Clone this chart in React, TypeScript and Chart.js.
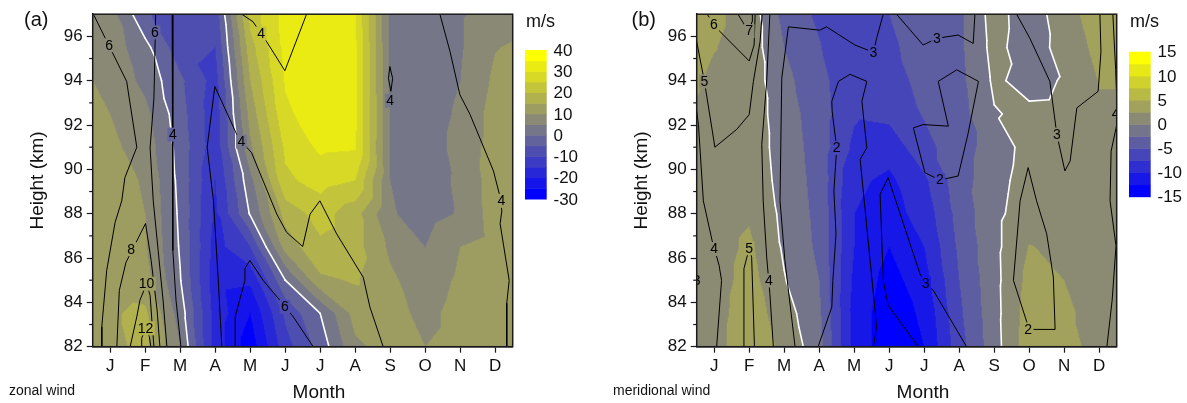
import { useEffect, useRef } from "react";
import { Chart, registerables } from "chart.js";

Chart.register(...registerables);

const FONT = "'Liberation Sans', Arial, Helvetica, sans-serif";

type Pt = [number, number];
type Label = [number, number, string];

// ---------- axes ----------
const MONTH_TICKS = [1, 2, 3, 4, 5, 6, 7, 8, 9, 10, 11, 12];
const MONTH_LABELS = ["J", "F", "M", "A", "M", "J", "J", "A", "S", "O", "N", "D"];
const HEIGHT_TICKS = [82, 84, 86, 88, 90, 92, 94, 96];
const HEIGHT_MINOR = [83, 85, 87, 89, 91, 93, 95];

// ---------- grid of the filled field ----------
const GRID_MONTHS = [0.5, 1, 2, 3, 4, 5, 6, 7, 8, 9, 10, 11, 12, 12.5];
const GRID_HEIGHTS = [82, 83.5, 85, 86.5, 88, 89.5, 91, 92.5, 94, 95.5, 97];

// zonal wind (m/s), one row per grid month, heights 82 -> 97 km
const ZONAL_WIND: number[][] = [
  [13, 13, 12, 12, 12, 12, 12, 11, 10, 9, 8],
  [14, 14.5, 13, 12.5, 12, 12, 11, 10, 9, 8, 7],
  [16, 16, 12, 10.5, 10, 9.5, 8, 6.5, 3.5, 1.5, -4],
  [5, 2.8, 0.3, -0.5, -1, -1.5, -2, -3, -4, -8, -10],
  [-17, -17, -18, -17, -16, -15, -13, -13, -12, -10, -8],
  [-28, -25, -19, -10, 0.5, 3.5, 9, 12, 15, 18, 22],
  [-12, -9, 0, 12, 17, 24, 26, 29, 30.5, 31.5, 32],
  [-3, 0, 14, 19, 22, 27, 31, 33, 34, 34, 33],
  [9, 12, 15.5, 17, 17, 25, 30.5, 31, 31, 31, 30],
  [12, 12, 11, 9, 5.5, 5, 4.5, 4.5, 4, 4, 4],
  [10, 8.5, 7, 5, 3, 2.5, 2, 2, 1.5, 1, 1],
  [12, 12, 11, 10, 5.5, 6, 7, 6, 5, 4.5, 4.5],
  [12, 12, 12, 12, 12.5, 12.5, 12, 12, 11, 9.8, 7],
  [12, 12, 12, 12, 12.5, 12.5, 12, 12, 11.5, 10.5, 8.5],
];

// meridional wind (m/s), one row per grid month, heights 82 -> 97 km
const MERIDIONAL_WIND: number[][] = [
  [1.2, 1.2, 1.2, 1.2, 1.2, 1.2, 1.3, 2.2, 2.8, 3.3, 4],
  [1.4, 1.4, 1.3, 1.3, 1.3, 1.3, 1.3, 1.5, 2.0, 2.6, 3],
  [4.5, 4, 3.5, 3, 2.2, 1.7, 1.5, 1.5, 1.5, 1.5, 1.5],
  [1.8, 1.1, 0.15, -0.35, -0.6, -0.9, -1.1, -1.35, -1.85, -2.5, -3.3],
  [-1.5, -2, -2.5, -3, -3.2, -3.4, -3.6, -3.8, -4, -4.8, -5.5],
  [-11, -11, -10.5, -10, -10, -9.5, -8, -7.2, -7.5, -7.5, -7.5],
  [-14, -14, -13.5, -12.5, -11, -10.5, -9, -6.8, -5.8, -5.3, -5],
  [-12.5, -12, -11, -10, -9, -8, -5.8, -4.8, -4.4, -4.3, -4.2],
  [-6, -5.5, -5, -4.5, -4, -3.5, -3.5, -3.5, -3.2, -3, -3],
  [-1.05, -0.9, -0.8, -0.7, -0.7, -1.0, -1.45, -0.15, 0.4, 0.8, 1.05],
  [4, 3.7, 3.3, 2.6, 1.5, 1.2, 1, 0.5, -0.8, -1.4, -1.5],
  [3.5, 3, 2.5, 2, 1.5, 1.2, 1, 0.6, 0.2, 1, 1.5],
  [1.5, 1.5, 1.5, 1.5, 1.5, 1.5, 1.8, 2.2, 2.6, 3.2, 3.8],
  [1.2, 1.2, 1.3, 1.4, 1.5, 1.6, 1.8, 2.2, 2.6, 3.5, 4.3],
];

// ---------- black contour lines (month, height) ----------
const ZONAL_CONTOURS: Pt[][] = [
  [[0.52, 97], [1.47, 93.97], [1.76, 91.0], [1.42, 89.63], [1.33, 88.58], [1.14, 87.61], [0.9, 85.44], [0.76, 82.9], [0.76, 82]],
  [[2.3, 97], [2.25, 93.22], [2.14, 90.97], [2.23, 88.58], [2.37, 86.34], [2.51, 84.1], [2.62, 82]],
  [[2.77, 97], [2.79, 91.59], [2.79, 86.34], [2.88, 84.1], [3.02, 82]],
  [[4.19, 82], [4.09, 84.92], [3.95, 88.58], [3.77, 91.0], [3.99, 93.74], [4.66, 91.42], [5.04, 90.75], [5.76, 87.98], [6.04, 87.16], [6.5, 86.52], [6.71, 87.98], [6.99, 88.58], [7.47, 87.09], [8.23, 85.13], [8.42, 83.79], [8.8, 82]],
  [[4.76, 97], [5.08, 96.66], [5.47, 95.76], [5.99, 94.45], [6.61, 97]],
  [[4.57, 82], [4.57, 83.35], [4.85, 84.99], [4.85, 85.53], [4.99, 85.89], [5.37, 84.99], [5.85, 84.09], [6.23, 83.35], [6.8, 82]],
  [[10.42, 97], [10.71, 95.31], [10.99, 93.37], [11.28, 92.48], [11.95, 89.93], [12.12, 88.88], [12.19, 88.13], [12.14, 87.55], [12.4, 84.99], [12.33, 83.96], [12.33, 82]],
  [[8.99, 94.64], [9.07, 94.1], [9.02, 93.52], [8.95, 94.1], [8.99, 94.64]],
  [[1.19, 82], [1.26, 84.54], [1.45, 85.8], [2.01, 87.56], [2.17, 85.89], [2.34, 83.65], [2.42, 82]],
  [[1.57, 82], [1.76, 83.35], [1.85, 84.1], [2.04, 84.84], [2.14, 84.32], [2.19, 83.2], [2.25, 82]],
  [[1.9, 82], [1.9, 82.38], [2.01, 82.83], [2.12, 82.45], [2.16, 82]],
];
const ZONAL_LABELS: Label[] = [
  [0.97, 95.6, "6"], [2.28, 96.18, "6"], [2.79, 91.57, "4"], [5.31, 96.13, "4"],
  [4.75, 91.25, "4"], [9.0, 93.1, "4"], [12.18, 88.58, "4"], [1.6, 86.4, "8"],
  [2.04, 84.84, "10"], [2.01, 82.83, "12"], [5.99, 83.8, "6"],
];

const MERIDIONAL_CONTOURS: Pt[][] = [
  [[0.8, 97], [0.99, 96.54], [1.17, 96.21], [2.0, 94.89], [2.14, 95.61], [2.17, 97]],
  [[1.68, 97], [1.88, 96.48], [2.0, 96.24], [2.08, 96.66], [2.09, 97]],
  [[0.5, 95.76], [0.72, 93.97], [1.02, 91.0], [1.64, 91.8], [2.0, 92.47], [2.12, 93.97], [2.31, 95.76], [2.37, 97]],
  [[2.59, 97], [2.5, 93.97], [2.36, 91.13], [2.4, 88.58], [2.5, 86.04], [2.59, 84.4], [2.69, 82]],
  [[3.31, 82], [3.02, 85.89], [2.88, 88.58], [2.93, 94.11], [3.12, 96.43], [4.02, 96.28], [4.21, 96.43], [5.02, 95.61], [5.55, 95.28], [5.64, 95.91], [5.83, 97]],
  [[0.5, 92.62], [0.55, 92.02], [0.69, 88.58], [0.94, 86.79], [1.14, 85.67], [1.21, 84.99], [1.07, 82]],
  [[1.83, 82], [1.85, 85.52], [2.0, 86.44], [2.07, 86.04], [2.15, 82]],
  [[3.97, 82], [4.36, 83.79], [4.39, 84.99], [4.48, 87.09], [4.42, 89.03], [4.5, 90.97], [4.37, 92.62], [4.36, 93.07], [4.55, 93.97], [4.88, 94.29], [5.36, 93.97], [5.22, 93.07], [5.36, 90.97], [5.17, 90.45], [5.64, 82.9], [5.55, 82]],
  [[6.83, 82], [5.97, 83.87], [5.83, 84.99], [5.74, 88.88], [5.97, 89.63], [6.88, 85.29], [7.04, 84.84], [7.26, 84.54], [8.21, 82]],
  [[6.21, 97], [6.97, 95.61], [7.36, 95.91], [7.97, 96.06], [8.4, 95.68], [8.45, 97]],
  [[7.93, 94.49], [7.4, 93.97], [7.69, 91.95], [6.97, 92.02], [6.69, 91.87], [7.02, 89.85], [7.45, 89.52], [7.97, 89.7], [8.25, 91.59], [8.55, 93.97], [7.93, 94.49]],
  [[9.64, 97], [10.02, 95.91], [10.59, 93.97], [10.79, 91.57], [11.02, 89.93], [11.17, 90.38], [11.36, 92.77], [11.97, 93.52], [12.05, 95.31], [12.02, 97]],
  [[9.97, 90.08], [9.74, 88.58], [9.55, 84.99], [9.93, 83.12], [9.97, 82.78], [10.74, 82.78], [10.69, 85.14], [10.5, 87.09], [10.21, 88.58], [9.97, 90.08]],
  [[12.39, 97], [12.47, 94.5], [12.5, 93.2], [12.5, 92.0], [12.34, 90.82], [12.31, 88.58], [12.48, 86.55], [12.37, 84.1], [12.22, 82]],
];
const MERIDIONAL_LABELS: Label[] = [
  [0.99, 96.54, "6"], [2.0, 96.24, "7"], [0.72, 93.97, "5"], [1.0, 86.41, "4"],
  [2.0, 86.44, "5"], [2.56, 84.99, "4"], [5.55, 95.28, "3"], [4.5, 90.97, "2"],
  [7.04, 84.84, "3"], [7.36, 95.91, "3"], [7.45, 89.52, "2"], [10.79, 91.57, "3"],
  [9.97, 82.78, "2"], [12.47, 92.5, "4"], [0.5, 84.99, "3"],
];

// ---------- colour levels ----------
const ZONAL_LEVELS = { min: -30, max: 40, step: 5 };
const ZONAL_BAR_TICKS = [40, 30, 20, 10, 0, -10, -20, -30];
const MERIDIONAL_LEVELS = { min: -15, max: 15, step: 2.5 };
const MERIDIONAL_BAR_TICKS = [15, 10, 5, 0, -5, -10, -15];

type Levels = { min: number; max: number; step: number };
type Spec = {
  grid: number[][];
  levels: Levels;
  barTicks: number[];
  contours: Pt[][];
  labels: Label[];
  letter: string;
  letterX: number;
  note: string;
  barTop: number;
  barBottom: number;
};

const ZONAL_SPEC: Spec = {
  grid: ZONAL_WIND, levels: ZONAL_LEVELS, barTicks: ZONAL_BAR_TICKS,
  contours: ZONAL_CONTOURS, labels: ZONAL_LABELS, letter: "(a)", letterX: 24,
  note: "zonal wind", barTop: 50, barBottom: 199,
};
const MERIDIONAL_SPEC: Spec = {
  grid: MERIDIONAL_WIND, levels: MERIDIONAL_LEVELS, barTicks: MERIDIONAL_BAR_TICKS,
  contours: MERIDIONAL_CONTOURS, labels: MERIDIONAL_LABELS, letter: "(b)", letterX: 27.5,
  note: "meridional wind", barTop: 51.7, barBottom: 196.7,
};

// ---------- helpers ----------
function locate(arr: number[], v: number) {
  let i = 0;
  while (i < arr.length - 2 && v > arr[i + 1]) i++;
  return i;
}
function sample(grid: number[][], xm: number, yh: number) {
  const gx = GRID_MONTHS, gy = GRID_HEIGHTS;
  const x = Math.min(Math.max(xm, gx[0]), gx[gx.length - 1]);
  const y = Math.min(Math.max(yh, gy[0]), gy[gy.length - 1]);
  const i = locate(gx, x), j = locate(gy, y);
  const u = (x - gx[i]) / (gx[i + 1] - gx[i]);
  const v = (y - gy[j]) / (gy[j + 1] - gy[j]);
  const f00 = grid[i][j], f10 = grid[i + 1][j], f01 = grid[i][j + 1], f11 = grid[i + 1][j + 1];
  if (u + v <= 1) return f00 + u * (f10 - f00) + v * (f01 - f00);
  return f11 + (1 - u) * (f01 - f11) + (1 - v) * (f10 - f11);
}
function binColor(v: number, lv: Levels): [number, number, number] {
  const n = Math.round((lv.max - lv.min) / lv.step);
  let idx = Math.floor((v - lv.min) / lv.step);
  idx = Math.max(0, Math.min(n - 1, idx));
  const t = idx / (n - 1);
  return [Math.round(255 * t), Math.round(255 * t), Math.round(255 * (1 - t))];
}
function contourSegments(grid: number[][], level: number) {
  const segs: [Pt, Pt][] = [];
  const gx = GRID_MONTHS, gy = GRID_HEIGHTS;
  const tri = (pts: Pt[], vals: number[]) => {
    const above = vals.map((v) => v >= level);
    if (above[0] === above[1] && above[1] === above[2]) return;
    const out: Pt[] = [];
    for (let k = 0; k < 3; k++) {
      const a = k, b = (k + 1) % 3;
      if (above[a] !== above[b]) {
        const t = (level - vals[a]) / (vals[b] - vals[a]);
        out.push([pts[a][0] + t * (pts[b][0] - pts[a][0]), pts[a][1] + t * (pts[b][1] - pts[a][1])]);
      }
    }
    if (out.length === 2) segs.push([out[0], out[1]]);
  };
  for (let i = 0; i < gx.length - 1; i++) {
    for (let j = 0; j < gy.length - 1; j++) {
      const p00: Pt = [gx[i], gy[j]], p10: Pt = [gx[i + 1], gy[j]];
      const p01: Pt = [gx[i], gy[j + 1]], p11: Pt = [gx[i + 1], gy[j + 1]];
      tri([p00, p10, p01], [grid[i][j], grid[i + 1][j], grid[i][j + 1]]);
      tri([p11, p01, p10], [grid[i + 1][j + 1], grid[i][j + 1], grid[i + 1][j]]);
    }
  }
  return segs;
}

function makePlugins(spec: Spec) {
  const fill = {
    id: "contourFill",
    beforeDatasetsDraw(chart: any) {
      const { ctx, chartArea: ca, scales } = chart;
      const xs = scales.x, ys = scales.y;
      const w = Math.ceil(ca.right - ca.left), h = Math.ceil(ca.bottom - ca.top);
      const off = document.createElement("canvas");
      off.width = w; off.height = h;
      const octx = off.getContext("2d")!;
      const img = octx.createImageData(w, h);
      for (let py = 0; py < h; py++) {
        const yv = ys.getValueForPixel(ca.top + py + 0.5);
        for (let px = 0; px < w; px++) {
          const xv = xs.getValueForPixel(ca.left + px + 0.5);
          const c = binColor(sample(spec.grid, xv, yv), spec.levels);
          const o = (py * w + px) * 4;
          img.data[o] = c[0]; img.data[o + 1] = c[1]; img.data[o + 2] = c[2]; img.data[o + 3] = 255;
        }
      }
      octx.putImageData(img, 0, 0);
      ctx.save();
      ctx.beginPath();
      ctx.rect(ca.left, ca.top, ca.right - ca.left, ca.bottom - ca.top);
      ctx.clip();
      ctx.drawImage(off, ca.left, ca.top);
      // white zero contour
      ctx.strokeStyle = "#ffffff";
      ctx.lineWidth = 1.6;
      ctx.lineCap = "round";
      for (const [a, b] of contourSegments(spec.grid, 0)) {
        ctx.beginPath();
        ctx.moveTo(xs.getPixelForValue(a[0]), ys.getPixelForValue(a[1]));
        ctx.lineTo(xs.getPixelForValue(b[0]), ys.getPixelForValue(b[1]));
        ctx.stroke();
      }
      ctx.restore();
    },
  };
  const labels = {
    id: "contourLabels",
    afterDatasetsDraw(chart: any) {
      const { ctx, chartArea: ca, scales } = chart;
      ctx.save();
      ctx.beginPath();
      ctx.rect(ca.left, ca.top, ca.right - ca.left, ca.bottom - ca.top);
      ctx.clip();
      ctx.font = `14px ${FONT}`;
      ctx.textAlign = "center";
      ctx.textBaseline = "middle";
      for (const [m, hgt, txt] of spec.labels) {
        const px = scales.x.getPixelForValue(m), py = scales.y.getPixelForValue(hgt);
        const c = binColor(sample(spec.grid, m, hgt), spec.levels);
        const tw = ctx.measureText(txt).width;
        ctx.fillStyle = `rgb(${c[0]},${c[1]},${c[2]})`;
        ctx.fillRect(px - tw / 2 - 1.5, py - 7, tw + 3, 14);
        ctx.fillStyle = "#000";
        ctx.fillText(txt, px, py + 0.5);
      }
      ctx.restore();
    },
  };
  const deco = {
    id: "decorations",
    afterDraw(chart: any) {
      const { ctx, chartArea: ca, scales } = chart;
      ctx.save();
      // frame
      ctx.strokeStyle = "#1a1a1a";
      ctx.lineWidth = 1.5;
      ctx.strokeRect(ca.left, ca.top, ca.right - ca.left, ca.bottom - ca.top);
      // minor y ticks
      ctx.lineWidth = 1.2;
      for (const v of HEIGHT_MINOR) {
        const py = scales.y.getPixelForValue(v);
        ctx.beginPath();
        ctx.moveTo(ca.left - 3.5, py);
        ctx.lineTo(ca.left, py);
        ctx.stroke();
      }
      // colorbar
      const lv = spec.levels;
      const n = Math.round((lv.max - lv.min) / lv.step);
      const bx = 525, bw = 21.7;
      const bh = (spec.barBottom - spec.barTop) / n;
      for (let k = 0; k < n; k++) {
        const c = binColor(lv.min + (k + 0.5) * lv.step, lv);
        ctx.fillStyle = `rgb(${c[0]},${c[1]},${c[2]})`;
        ctx.fillRect(bx, spec.barBottom - (k + 1) * bh, bw, bh + 0.5);
      }
      ctx.fillStyle = "#111";
      ctx.font = `17px ${FONT}`;
      ctx.textAlign = "left";
      ctx.textBaseline = "middle";
      for (const t of spec.barTicks) {
        const yy = spec.barBottom - ((t - lv.min) / (lv.max - lv.min)) * (spec.barBottom - spec.barTop);
        ctx.fillText(String(t), 553.5, yy + 1);
      }
      ctx.font = `18px ${FONT}`;
      ctx.fillText("m/s", 526, 22);
      // panel letter
      ctx.font = `20px ${FONT}`;
      ctx.fillText(spec.letter, spec.letterX, 20);
      // footnote
      ctx.font = `14px ${FONT}`;
      ctx.fillText(spec.note, 9, 391);
      // axis titles
      ctx.font = `19px ${FONT}`;
      ctx.textAlign = "center";
      ctx.fillText("Month", 319, 393);
      ctx.translate(38, (ca.top + ca.bottom) / 2);
      ctx.rotate(-Math.PI / 2);
      ctx.fillText("Height (km)", 0, 0);
      ctx.restore();
    },
  };
  return [fill, labels, deco];
}

function buildConfig(spec: Spec, width: number): any {
  const tickFont = { family: FONT, size: 17 };
  return {
    type: "scatter",
    data: {
      datasets: spec.contours.map((pts) => ({
        data: pts.map(([x, y]) => ({ x, y })),
        showLine: true,
        borderColor: "#000",
        borderWidth: 1,
        pointRadius: 0,
        pointHoverRadius: 0,
        fill: false,
        tension: 0,
      })),
    },
    options: {
      animation: false,
      responsive: false,
      maintainAspectRatio: false,
      events: [],
      layout: { padding: { left: 0, right: width - 512.7, top: 12.4, bottom: 0 } },
      plugins: { legend: { display: false }, tooltip: { enabled: false }, title: { display: false } },
      scales: {
        x: {
          type: "linear",
          min: 0.5,
          max: 12.5,
          afterBuildTicks: (axis: any) => {
            axis.ticks = MONTH_TICKS.map((v) => ({ value: v }));
          },
          afterFit: (axis: any) => {
            axis.height = 56.3;
          },
          ticks: {
            callback: (v: number) => MONTH_LABELS[Math.round(v) - 1] ?? "",
            font: tickFont,
            color: "#111",
            padding: 3,
            maxRotation: 0,
            minRotation: 0,
            autoSkip: false,
          },
          grid: { display: true, drawOnChartArea: false, drawTicks: true, tickLength: 6, tickColor: "#1a1a1a", tickWidth: 1.2 },
          border: { display: true, color: "#1a1a1a", width: 1.5 },
        },
        y: {
          type: "linear",
          min: 82,
          max: 97,
          afterBuildTicks: (axis: any) => {
            axis.ticks = HEIGHT_TICKS.map((v) => ({ value: v }));
          },
          afterFit: (axis: any) => {
            axis.width = 92.7;
          },
          ticks: { font: tickFont, color: "#111", padding: 4, autoSkip: false },
          grid: { display: true, drawOnChartArea: false, drawTicks: true, tickLength: 6, tickColor: "#1a1a1a", tickWidth: 1.2 },
          border: { display: true, color: "#1a1a1a", width: 1.5 },
        },
      },
    },
    plugins: makePlugins(spec),
  };
}

function Panel({ spec, left, width }: { spec: Spec; left: number; width: number }) {
  const ref = useRef<HTMLCanvasElement>(null);
  useEffect(() => {
    const chart = new Chart(ref.current as HTMLCanvasElement, buildConfig(spec, width));
    return () => chart.destroy();
  }, [spec, width]);
  return (
    <canvas
      ref={ref}
      width={width}
      height={403}
      style={{ position: "absolute", left, top: 0, width, height: 403, display: "block" }}
    />
  );
}

export default function App() {
  return (
    <div style={{ position: "absolute", left: 0, top: 0, width: 1187, height: 403, background: "#fff", overflow: "hidden" }}>
      <Panel spec={ZONAL_SPEC} left={0} width={604} />
      <Panel spec={MERIDIONAL_SPEC} left={604} width={583} />
    </div>
  );
}
